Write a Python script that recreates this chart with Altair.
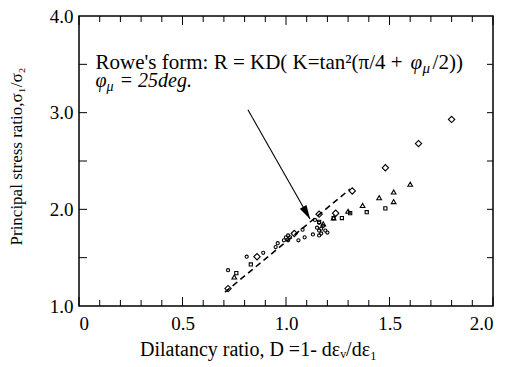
import altair as alt
import pandas as pd

# ---- data ----
circle_D = [0.72, 0.81, 0.89, 0.95, 0.96, 0.99, 1.00, 1.01, 1.01, 1.02, 1.06, 1.08, 1.09, 1.13,
            1.14, 1.15, 1.16, 1.16, 1.17, 1.18, 1.19, 1.20, 1.16, 1.17]
circle_R = [1.37, 1.51, 1.55, 1.61, 1.65, 1.68, 1.71, 1.73, 1.68, 1.71, 1.68, 1.79, 1.71, 1.74,
            1.89, 1.81, 1.78, 1.73, 1.75, 1.83, 1.78, 1.76, 1.86, 1.80]
diamond_D = [0.72, 0.86, 1.04, 1.16, 1.24, 1.32, 1.48, 1.64, 1.80]
diamond_R = [1.18, 1.51, 1.75, 1.95, 1.96, 2.19, 2.43, 2.68, 2.93]
triangle_D = [0.75, 1.18, 1.23, 1.30, 1.37, 1.45, 1.52, 1.52, 1.60]
triangle_R = [1.30, 1.85, 1.91, 1.98, 2.04, 2.12, 2.18, 2.08, 2.26]
square_D = [0.76, 0.83, 1.16, 1.23, 1.27, 1.31, 1.39, 1.48]
square_R = [1.34, 1.43, 1.87, 1.91, 1.91, 1.96, 1.97, 2.01]

fit_D = [0.705, 1.31]
fit_R = [1.143, 2.21]

arrow_D = [0.816, 1.116]
arrow_R = [3.03, 1.90]

x_major = [0.0, 0.5, 1.0, 1.5, 2.0]
x_minor = [0.1, 0.2, 0.3, 0.4, 0.6, 0.7, 0.8, 0.9, 1.1, 1.2, 1.3, 1.4, 1.6, 1.7, 1.8, 1.9]
y_ticks = [1.5, 2.0, 2.5, 3.0, 3.5]
y_labels = [1.0, 2.0, 3.0, 4.0]

W, H = 414, 290
FONT = "Liberation Serif"
FS = 19

xs = alt.Scale(domain=[0, 2], nice=False, zero=False)
ys = alt.Scale(domain=[1, 4], nice=False, zero=False)

xaxis = alt.Axis(values=x_major, labelExpr="datum.value == 0 ? '0' : format(datum.value, '.1f')",
                 ticks=False, domain=False, grid=False, labelPadding=8,
                 title="Dilatancy ratio, D =1- dεᵥ/dε₁", titlePadding=6, titleFontSize=20,
                 titleX=179, titleAlign="center", titleAnchor="middle")
yaxis = alt.Axis(values=y_labels, format=".1f", ticks=False, domain=False, grid=False, labelPadding=6,
                 title="Principal stress ratio,σ₁/σ₂", titlePadding=24, titleFontSize=17,
                 titleY=140, titleAlign="center", titleAnchor="middle")


def X(f):
    return alt.X(f, scale=xs, axis=xaxis)


def Y(f):
    return alt.Y(f, scale=ys, axis=yaxis)


def pts(D, R, shape, size):
    df = pd.DataFrame({"D": D, "R": R})
    return alt.Chart(df).mark_point(shape=shape, size=size, filled=False, color="black",
                                    strokeWidth=1.1, opacity=1).encode(x=X("D:Q"), y=Y("R:Q"))


xmaj = pd.DataFrame({"v": x_major})
xmin = pd.DataFrame({"v": x_minor})
ytk = pd.DataFrame({"v": y_ticks})


def xtick(df, y1, y2):
    return alt.Chart(df).mark_rule(color="black", strokeWidth=1).encode(
        x=X("v:Q"), y=alt.value(y1), y2=alt.value(y2))


def ytick(df, x1, x2):
    return alt.Chart(df).mark_rule(color="black", strokeWidth=1).encode(
        y=Y("v:Q"), x=alt.value(x1), x2=alt.value(x2))


ticks = [
    xtick(xmaj, H, H - 9), xtick(xmin, H, H - 6),
    xtick(xmaj, 0, 9), xtick(xmin, 0, 6),
    ytick(ytk, 0, 8), ytick(ytk, W, W - 6),
]

fit = alt.Chart(pd.DataFrame({"D": fit_D, "R": fit_R})).mark_line(
    color="black", strokeWidth=1.6, strokeDash=[6, 4]).encode(x=X("D:Q"), y=Y("R:Q"))

arrow_line = alt.Chart(pd.DataFrame({"D": arrow_D, "R": arrow_R})).mark_line(
    color="black", strokeWidth=1.1).encode(x=X("D:Q"), y=Y("R:Q"))
arrow_head = alt.Chart(pd.DataFrame({"D": [arrow_D[1]], "R": [arrow_R[1]]})).mark_point(
    shape="M0,0L-2,-0.55L-2,0.55Z", size=196, filled=True, color="black", opacity=1, angle=60.6).encode(
    x=X("D:Q"), y=Y("R:Q"))

TX = 0.08
L1 = 3.447
L2 = 3.263


def txt(s, x, y, dx=0, dy=0, size=20, style="normal"):
    return alt.Chart(pd.DataFrame({"D": [x], "R": [y], "t": [s]})).mark_text(
        align="left", baseline="alphabetic", font=FONT, fontSize=size, fontStyle=style,
        color="black", dx=dx, dy=dy).encode(x=X("D:Q"), y=Y("R:Q"), text="t:N")


texts = [
    txt("Rowe's form: R = KD( K=tan²(π/4 + ", TX, L1, size=21),
    txt("φ", TX, L1, dx=315, size=21, style="italic"),
    txt("μ", TX, L1, dx=327, dy=4, size=15, style="italic"),
    txt("/2))", TX, L1, dx=337, size=21),
    txt("φ", TX, L2, style="italic"),
    txt("μ", TX, L2, dx=11, dy=4, size=14, style="italic"),
    txt("= 25deg.", TX, L2, dx=24, style="italic"),
]

chart = alt.layer(
    *ticks, fit, arrow_line, arrow_head,
    pts(circle_D, circle_R, "circle", 10),
    pts(square_D, square_R, "square", 10),
    pts(triangle_D, triangle_R, "triangle-up", 22),
    pts(diamond_D, diamond_R, "diamond", 40),
    *texts,
).properties(
    width=W, height=H,
    autosize=alt.AutoSizeParams(type="none"),
    padding={"left": 71, "top": 8, "right": 7, "bottom": 55},
).configure_view(
    stroke="black", strokeWidth=1.5
).configure_axis(
    labelFont=FONT, labelFontSize=FS, labelColor="black",
    titleFont=FONT, titleFontSize=FS, titleColor="black", titleFontWeight="normal",
)

chart.save("out.html", embed_options={"renderer": "svg", "actions": False})
